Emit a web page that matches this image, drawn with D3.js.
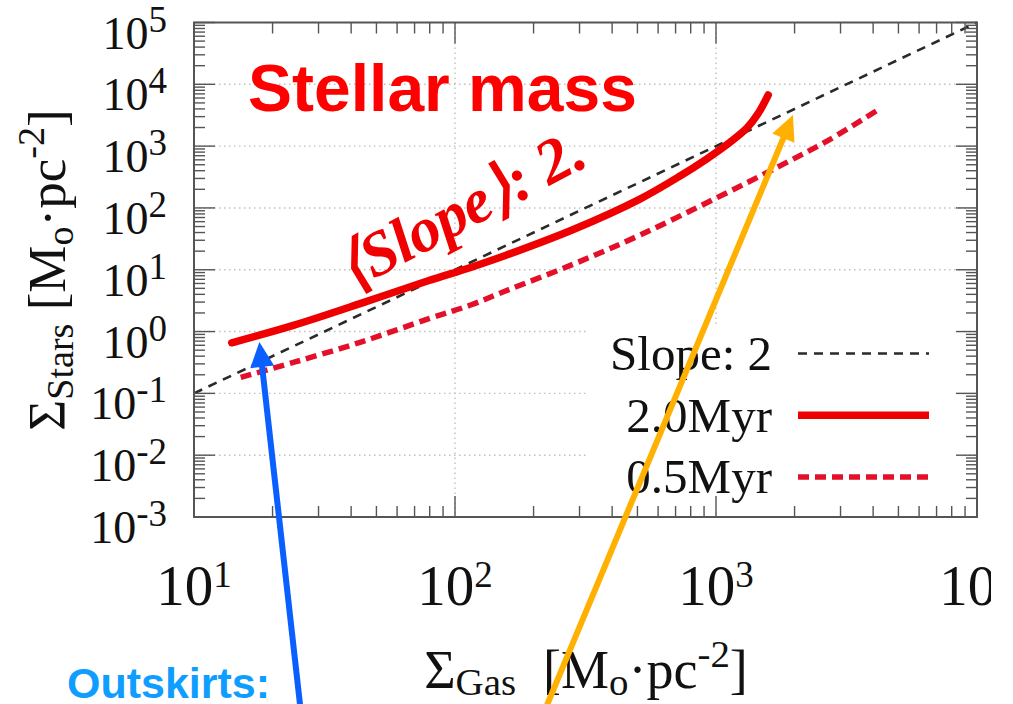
<!DOCTYPE html>
<html><head><meta charset="utf-8">
<script src="https://cdn.jsdelivr.net/npm/d3@7"></script>
<style>html,body{margin:0;padding:0;background:#fff;} svg{display:block;}</style>
</head><body>
<svg id="c" width="1013" height="704"></svg>
<script>
// ---------- data ----------
const xTickExps = [1, 2, 3, 4];
const yTickExps = [-3, -2, -1, 0, 1, 2, 3, 4, 5];
const slopeX = [10, 10000];
const slopeY = [0.1, 100000];
const myr2X = [13.95, 24.2, 43.6, 78.4, 114.8, 157.8, 284, 511, 728, 920, 1102, 1312, 1449, 1585];
const myr2Y = [0.659, 1.27, 2.86, 6.56, 10.9, 17.3, 44.7, 139, 328, 618, 1060, 1950, 3350, 6714];
const myr05X = [15.1, 24.2, 43.6, 78.4, 114.8, 157.8, 284, 511, 1007, 1758, 2735, 4130];
const myr05Y = [0.1816, 0.319, 0.676, 1.585, 2.69, 4.62, 12.3, 36.3, 146, 479, 1288, 3758];
const legendLabels = ["Slope: 2", "2.0Myr", "0.5Myr"];
// annotation arrows in data coordinates: [tail, tip]
const blueArrow = [[25.5, 9e-7], [17.8, 0.676]];
const orangeArrow = [[225, 9e-7], [1972, 3184]];

// ---------- layout ----------
const svg = d3.select("#c");
const x = d3.scaleLog().domain([10, 1e4]).range([194, 977]);
const y = d3.scaleLog().domain([1e-3, 1e5]).range([517, 22.5]);
const X0 = x.range()[0], X1 = x.range()[1], Y0 = y.range()[0], Y1 = y.range()[1];
const serif = "'Liberation Serif','Times New Roman',serif";
const sans = "'Liberation Sans',Arial,sans-serif";

const isMajor = v => Math.abs(Math.log10(v) - Math.round(Math.log10(v))) < 1e-9;
const xt = x.ticks(), yt = y.ticks();

// grid
const grid = svg.append("g").attr("stroke", "#c0c0c0").attr("stroke-width", 1.4).attr("stroke-dasharray", "1.5,3.5");
xt.filter(isMajor).filter(v => v > 10 && v < 1e4).forEach(v =>
  grid.append("line").attr("x1", x(v)).attr("x2", x(v)).attr("y1", Y1).attr("y2", Y0));
yt.filter(isMajor).filter(v => v > 1e-3 && v < 1e5).forEach(v =>
  grid.append("line").attr("x1", X0).attr("x2", X1).attr("y1", y(v)).attr("y2", y(v)));

// opaque legend box
svg.append("rect").attr("x", 588).attr("y", 326).attr("width", 376).attr("height", 186).attr("fill", "#fff");

// curves
const line = d3.line().x(d => x(d[0])).y(d => y(d[1])).curve(d3.curveCatmullRom.alpha(0.5));
svg.append("path").datum(slopeX.map((v, i) => [v, slopeY[i]]))
  .attr("d", d3.line().x(d => x(d[0])).y(d => y(d[1])))
  .attr("fill", "none").attr("stroke", "#2a2a2a").attr("stroke-width", 2.6).attr("stroke-dasharray", "9,7");
svg.append("path").datum(myr05X.map((v, i) => [v, myr05Y[i]]))
  .attr("d", line).attr("fill", "none").attr("stroke", "#e4102a").attr("stroke-width", 5.5).attr("stroke-dasharray", "11,6");
svg.append("path").datum(myr2X.map((v, i) => [v, myr2Y[i]]))
  .attr("d", line).attr("fill", "none").attr("stroke", "#ee0000").attr("stroke-width", 7.5)
  .attr("stroke-linecap", "round").attr("stroke-linejoin", "round");

// ticks (mirrored, inward)
const tk = svg.append("g").attr("stroke", "#555").attr("stroke-width", 1.4);
const L = v => isMajor(v) ? 21 : 11;
xt.forEach(v => {
  tk.append("line").attr("x1", x(v)).attr("x2", x(v)).attr("y1", Y0).attr("y2", Y0 - L(v));
  tk.append("line").attr("x1", x(v)).attr("x2", x(v)).attr("y1", Y1).attr("y2", Y1 + L(v));
});
yt.forEach(v => {
  tk.append("line").attr("y1", y(v)).attr("y2", y(v)).attr("x1", X0).attr("x2", X0 + L(v));
  tk.append("line").attr("y1", y(v)).attr("y2", y(v)).attr("x1", X1).attr("x2", X1 - L(v));
});
// frame
svg.append("rect").attr("x", X0).attr("y", Y1).attr("width", X1 - X0).attr("height", Y0 - Y1)
  .attr("fill", "none").attr("stroke", "#555").attr("stroke-width", 2);

// y tick labels
yTickExps.forEach(e => {
  const t = svg.append("text").attr("x", 167).attr("y", y(Math.pow(10, e)) + 26)
    .attr("text-anchor", "end").attr("font-family", serif).attr("font-size", 46).attr("fill", "#111");
  t.append("tspan").text("10");
  t.append("tspan").attr("dy", -17).attr("font-size", 37).text(String(e));
});
// x tick labels (the reference image is cropped at its right edge)
svg.append("clipPath").attr("id", "xclip").append("rect").attr("x", 0).attr("y", 540).attr("width", 991).attr("height", 100);
const xl = svg.append("g").attr("clip-path", "url(#xclip)");
xTickExps.forEach(e => {
  const t = xl.append("text").attr("x", x(Math.pow(10, e))).attr("y", 605)
    .attr("text-anchor", "middle").attr("font-family", serif).attr("font-size", 57).attr("fill", "#111");
  t.append("tspan").text("10");
  t.append("tspan").attr("dy", -18).attr("font-size", 37).text(String(e));
});

// axis titles
function unitTitle(t, sub, gap, fs, sd) {
  const s = fs * 0.72;
  t.append("tspan").text("Σ");
  t.append("tspan").attr("font-size", s).attr("dy", sd).text(sub);
  t.append("tspan").attr("dy", -sd).text(gap + "[M");
  t.append("tspan").attr("font-size", s).attr("dy", sd).text("o");
  t.append("tspan").attr("dy", -sd).text("·pc");
  t.append("tspan").attr("font-size", s).attr("dy", -21).text("-2");
  t.append("tspan").attr("dy", 21).text("]");
}
const xtitle = svg.append("text").attr("x", 586).attr("y", 688).attr("text-anchor", "middle")
  .attr("font-family", serif).attr("font-size", 54).attr("fill", "#111");
unitTitle(xtitle, "Gas", "\u00a0\u00a0", 54, 7);
const ytitle = svg.append("text").attr("transform", "translate(65,270) rotate(-90)").attr("text-anchor", "middle")
  .attr("font-family", serif).attr("font-size", 53).attr("fill", "#111");
unitTitle(ytitle, "Stars", "\u00a0", 53, 8);

// legend
const legStyles = [
  {stroke: "#2a2a2a", w: 2.6, dash: "9,7"},
  {stroke: "#ee0000", w: 7.5, dash: null},
  {stroke: "#e4102a", w: 5.5, dash: "11,6"}
];
legendLabels.forEach((lab, i) => {
  const by = 370 + i * 61.7;
  svg.append("text").attr("x", 772).attr("y", by).attr("text-anchor", "end")
    .attr("font-family", serif).attr("font-size", 49).attr("fill", "#111").text(lab);
  const s = legStyles[i];
  const ln = svg.append("line").attr("x1", 798).attr("x2", 929).attr("y1", by - 16.5).attr("y2", by - 16.5)
    .attr("stroke", s.stroke).attr("stroke-width", s.w);
  if (s.dash) ln.attr("stroke-dasharray", s.dash);
});

// annotations
svg.append("text").attr("x", 248).attr("y", 111).attr("font-family", sans).attr("font-weight", "bold")
  .attr("font-size", 66).attr("fill", "#ff0000").text("Stellar mass");
svg.append("text").attr("transform", "translate(352,291) rotate(-28)")
  .attr("font-family", serif).attr("font-weight", "bold").attr("font-style", "italic")
  .attr("font-size", 63).attr("fill", "#f00000").attr("textLength", 270).attr("lengthAdjust", "spacing")
  .text("⟨Slope⟩: 2.");
svg.append("text").attr("x", 67).attr("y", 698).attr("font-family", sans).attr("font-weight", "bold")
  .attr("font-size", 43).attr("fill", "#0f9dff").text("Outskirts:");

function arrow(pts, color) {
  const [a, b] = pts.map(p => [x(p[0]), y(p[1])]);
  const dx = b[0] - a[0], dy = b[1] - a[1], len = Math.hypot(dx, dy);
  const ux = dx / len, uy = dy / len, hl = 25, hw = 12;
  const base = [b[0] - ux * hl, b[1] - uy * hl];
  svg.append("line").attr("x1", a[0]).attr("y1", a[1]).attr("x2", base[0] + ux * 2).attr("y2", base[1] + uy * 2)
    .attr("stroke", color).attr("stroke-width", 6);
  svg.append("path").attr("d", `M${b[0]},${b[1]} L${base[0] - uy * hw},${base[1] + ux * hw} L${base[0] + uy * hw},${base[1] - ux * hw} Z`)
    .attr("fill", color);
}
arrow(blueArrow, "#0a5fff");
arrow(orangeArrow, "#ffb000");
</script>
</body></html>
